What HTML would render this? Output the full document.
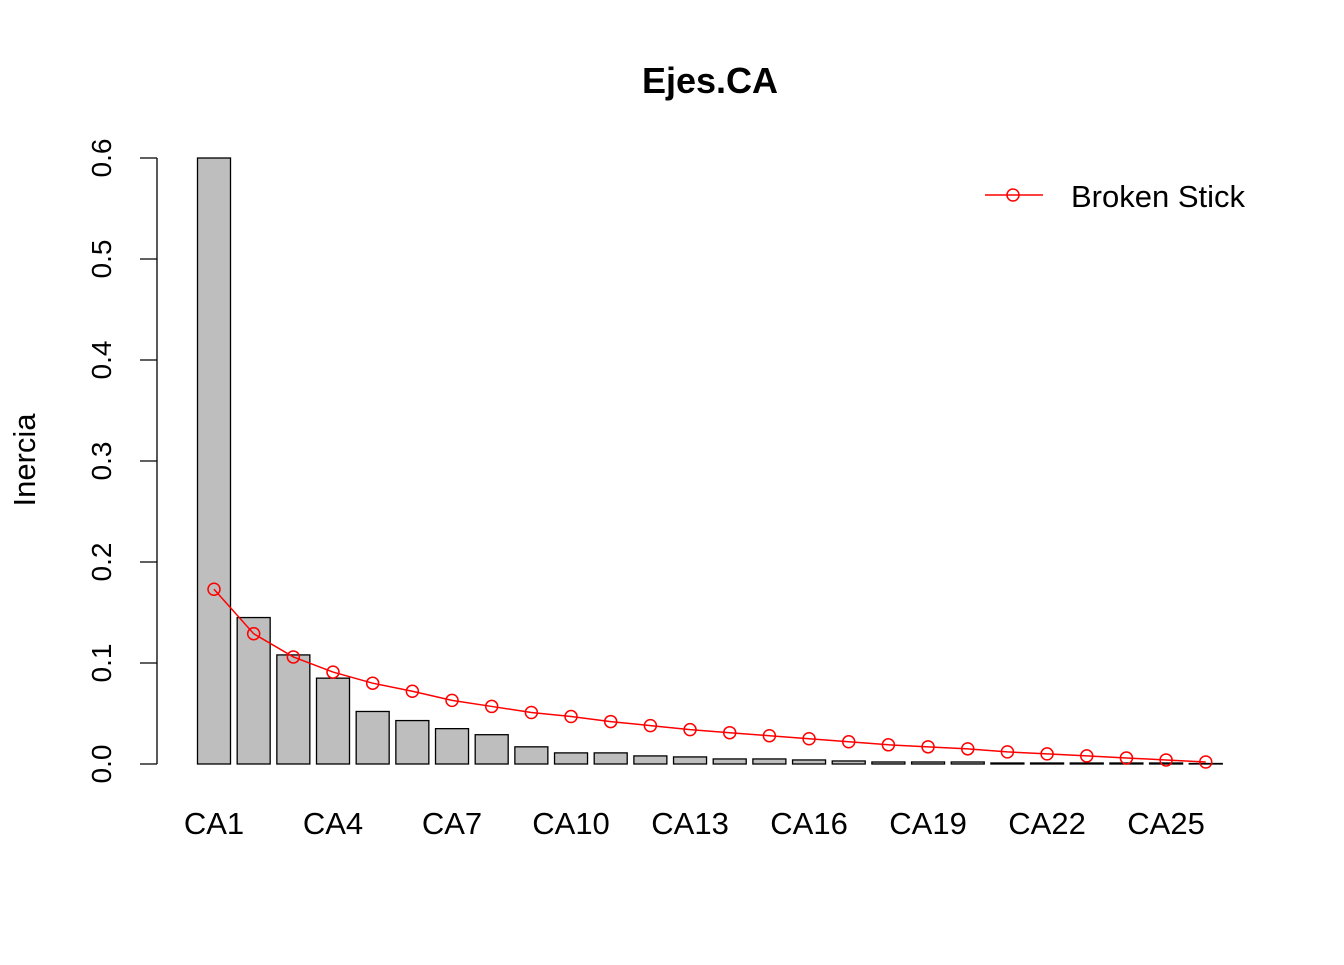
<!DOCTYPE html>
<html><head><meta charset="utf-8"><style>
body{margin:0;background:#fff}
svg text{font-family:"Liberation Sans",Arial,sans-serif}
</style></head><body>
<svg id="chart" width="1344" height="960" xmlns="http://www.w3.org/2000/svg">
<text x="710" y="93" font-size="36" font-weight="bold" text-anchor="middle">Ejes.CA</text>
<text transform="translate(35,460) rotate(-90)" font-size="31" text-anchor="middle">Inercia</text>
<g id="yaxis"></g>
<g id="bars"></g>
<g id="xlabels"></g>
<g id="bs"></g>
<g>
<line x1="985" y1="195" x2="1043" y2="195" stroke="red" stroke-width="1.5"/>
<circle cx="1013" cy="195" r="6" fill="none" stroke="red" stroke-width="1.5"/>
<text x="1071" y="207" font-size="31">Broken Stick</text>
</g>
</svg>
<script>
const categories = Array.from({length:26},(_,i)=>'CA'+(i+1));
const inertia = [0.600,0.145,0.108,0.085,0.052,0.043,0.035,0.029,0.017,0.011,0.011,0.008,0.007,0.005,0.005,0.004,0.003,0.002,0.002,0.002,0.001,0.001,0.001,0.001,0.001,0.0005];
const brokenStick = [0.173,0.129,0.106,0.091,0.080,0.072,0.063,0.057,0.051,0.047,0.042,0.038,0.034,0.031,0.028,0.025,0.022,0.019,0.017,0.015,0.012,0.010,0.008,0.006,0.004,0.002];
const yTicks = [0,0.1,0.2,0.3,0.4,0.5,0.6];
const yTickLabels = ['0.0','0.1','0.2','0.3','0.4','0.5','0.6'];
const NS='http://www.w3.org/2000/svg';
const y = v => 764 - v*1010;
const xc = i => 214 + i*39.67;
function mk(tag, attrs, parent){const e=document.createElementNS(NS,tag);for(const k in attrs)e.setAttribute(k,attrs[k]);parent.appendChild(e);return e;}
const ya=document.getElementById('yaxis');
mk('line',{x1:157,x2:157,y1:y(0),y2:y(0.6),stroke:'#000','stroke-width':1.3},ya);
yTicks.forEach((t,i)=>{
  mk('line',{x1:140,x2:157,y1:y(t),y2:y(t),stroke:'#000','stroke-width':1.3},ya);
  const tx=mk('text',{transform:`translate(111,${y(t)}) rotate(-90)`,'font-size':28,'text-anchor':'middle'},ya);
  tx.textContent=yTickLabels[i];
  
  
});
const bg=document.getElementById('bars');
inertia.forEach((v,i)=>{
  const r=mk('rect',{x:xc(i)-16.5,y:y(v),width:33,height:Math.max(v*1010,0.5),fill:'#bebebe',stroke:'#000','stroke-width':1.3},bg);
  
  
});
const xl=document.getElementById('xlabels');
categories.forEach((c,i)=>{
  if(i%3!==0) return;
  const t=mk('text',{x:xc(i),y:834,'font-size':31,'text-anchor':'middle'},xl);
  t.textContent=c;
  
  
});
const bs=document.getElementById('bs');
mk('polyline',{points:brokenStick.map((v,i)=>xc(i)+','+y(v)).join(' '),fill:'none',stroke:'red','stroke-width':1.5},bs);
brokenStick.forEach((v,i)=>{
  const c=mk('circle',{cx:xc(i),cy:y(v),r:6,fill:'none',stroke:'red','stroke-width':1.5},bs);
  
  
});
</script>
</body></html>
